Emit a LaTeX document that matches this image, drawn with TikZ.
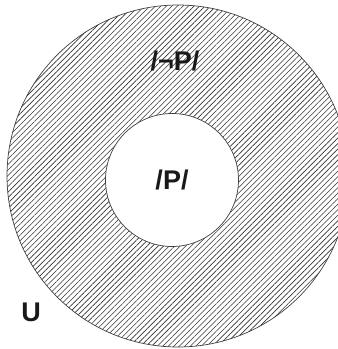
\documentclass[tikz,border=0pt]{standalone}
\usepackage{fontspec}
\setmainfont{Liberation Sans}
\usetikzlibrary{patterns.meta,positioning}

\tikzset{
  hatched/.style={pattern={Lines[angle=45,distance=3.9pt,line width=0.6pt]},pattern color=black!80},
  setline/.style={draw=black!75, line width=0.7pt},
  setlabel/.style={font=\fontsize{27}{32}\selectfont\bfseries, text=black!90, inner sep=0pt}
}

\begin{document}
\begin{tikzpicture}[x=1pt,y=1pt]
  \useasboundingbox (0,0) rectangle (338,349);
  \clip (0,0) rectangle (338,349);

  % universe and the set P
  \node[setline, hatched, circle, minimum size=342pt, inner sep=0pt] (univ) at (178,173) {};
  \node[setline, fill=white, circle, minimum size=133pt, inner sep=0pt] (setP) at (172,169) {};

  \node[setlabel] (lblP) at (setP.center) {/P/};
  \node[setlabel] (lblNotP) at (175,288) {/¬P/};
  \node[setlabel] (lblU) at (31,37) {U};
\end{tikzpicture}
\end{document}
